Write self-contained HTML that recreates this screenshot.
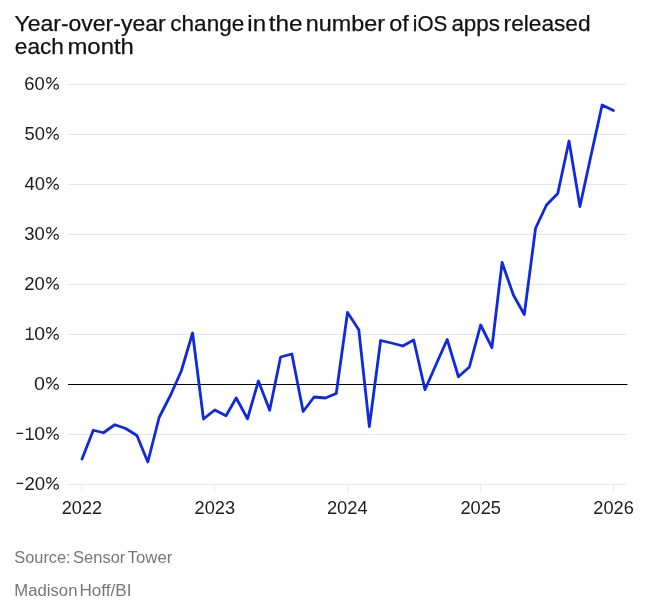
<!DOCTYPE html>
<html><head><meta charset="utf-8"><style>
html,body{margin:0;padding:0;background:#fff;}
body{width:651px;height:605px;overflow:hidden;}
svg{display:block;will-change:transform;font-family:"Liberation Sans",sans-serif;}
</style></head><body>
<svg width="651" height="605" viewBox="0 0 651 605">
<rect width="651" height="605" fill="#fff"/>
<g font-size="22.6" fill="#111" stroke="#111" stroke-width="0.25">
<text x="14.46" y="31" textLength="151.2" lengthAdjust="spacingAndGlyphs">Year-over-year</text><text x="170.3" y="31" textLength="74.0" lengthAdjust="spacingAndGlyphs">change</text><text x="247.3" y="31" textLength="18.77" lengthAdjust="spacingAndGlyphs">in</text><text x="268.7" y="31" textLength="33.83" lengthAdjust="spacingAndGlyphs">the</text><text x="305.65" y="31" textLength="79.33" lengthAdjust="spacingAndGlyphs">number</text><text x="389.27" y="31" textLength="19.5" lengthAdjust="spacingAndGlyphs">of</text><text x="412.83" y="31" textLength="34.43" lengthAdjust="spacingAndGlyphs">iOS</text><text x="451.41" y="31" textLength="48.56" lengthAdjust="spacingAndGlyphs">apps</text><text x="503.6" y="31" textLength="86.93" lengthAdjust="spacingAndGlyphs">released</text>
<text x="14.8" y="54.3" textLength="49.11" lengthAdjust="spacingAndGlyphs">each</text><text x="67.41" y="54.3" textLength="66.49" lengthAdjust="spacingAndGlyphs">month</text>
</g>
<g stroke="#e6e6e6" stroke-width="1">
<line x1="68" x2="627" y1="84.5" y2="84.5"/><line x1="68" x2="627" y1="134.5" y2="134.5"/><line x1="68" x2="627" y1="184.5" y2="184.5"/><line x1="68" x2="627" y1="234.5" y2="234.5"/><line x1="68" x2="627" y1="284.5" y2="284.5"/><line x1="68" x2="627" y1="334.5" y2="334.5"/><line x1="68" x2="627" y1="434.5" y2="434.5"/><line x1="68" x2="627" y1="484.5" y2="484.5"/>
<line x1="82.00" x2="82.00" y1="485" y2="491.8" stroke="#e9e9e9"/><line x1="214.76" x2="214.76" y1="485" y2="491.8" stroke="#e9e9e9"/><line x1="347.52" x2="347.52" y1="485" y2="491.8" stroke="#e9e9e9"/><line x1="480.64" x2="480.64" y1="485" y2="491.8" stroke="#e9e9e9"/><line x1="613.40" x2="613.40" y1="485" y2="491.8" stroke="#e9e9e9"/>
</g>
<g font-size="17.8" fill="#1c1c1c">
<text x="24.39" y="89.6" textLength="20.48" lengthAdjust="spacingAndGlyphs">60</text><text x="24.42" y="139.6" textLength="20.45" lengthAdjust="spacingAndGlyphs">50</text><text x="24.41" y="189.6" textLength="20.47" lengthAdjust="spacingAndGlyphs">40</text><text x="24.32" y="239.6" textLength="20.56" lengthAdjust="spacingAndGlyphs">30</text><text x="24.29" y="289.6" textLength="20.59" lengthAdjust="spacingAndGlyphs">20</text><text x="34.28" y="339.6" textLength="10.82" lengthAdjust="spacingAndGlyphs">0</text><text x="34.07" y="389.6" textLength="10.94" lengthAdjust="spacingAndGlyphs">0</text><text x="34.28" y="439.6" textLength="10.82" lengthAdjust="spacingAndGlyphs">0</text><text x="24.48" y="489.6" textLength="20.81" lengthAdjust="spacingAndGlyphs">20</text>
<rect x="16.5" y="432.75" width="6.7" height="1.25"/><rect x="16.5" y="482.75" width="6.7" height="1.25"/>
</g>
<g fill="none" stroke="#222" stroke-width="1.1"><ellipse cx="48.78" cy="80.30" rx="2.16" ry="2.66"/><ellipse cx="56.2" cy="86.80" rx="2.16" ry="2.45"/><line x1="47.75" y1="89.15" x2="56.8" y2="77.45"/><ellipse cx="48.78" cy="130.30" rx="2.16" ry="2.66"/><ellipse cx="56.2" cy="136.80" rx="2.16" ry="2.45"/><line x1="47.75" y1="139.15" x2="56.8" y2="127.45"/><ellipse cx="48.78" cy="180.30" rx="2.16" ry="2.66"/><ellipse cx="56.2" cy="186.80" rx="2.16" ry="2.45"/><line x1="47.75" y1="189.15" x2="56.8" y2="177.45"/><ellipse cx="48.78" cy="230.30" rx="2.16" ry="2.66"/><ellipse cx="56.2" cy="236.80" rx="2.16" ry="2.45"/><line x1="47.75" y1="239.15" x2="56.8" y2="227.45"/><ellipse cx="48.78" cy="280.30" rx="2.16" ry="2.66"/><ellipse cx="56.2" cy="286.80" rx="2.16" ry="2.45"/><line x1="47.75" y1="289.15" x2="56.8" y2="277.45"/><ellipse cx="48.78" cy="330.30" rx="2.16" ry="2.66"/><ellipse cx="56.2" cy="336.80" rx="2.16" ry="2.45"/><line x1="47.75" y1="339.15" x2="56.8" y2="327.45"/><ellipse cx="48.78" cy="380.30" rx="2.16" ry="2.66"/><ellipse cx="56.2" cy="386.80" rx="2.16" ry="2.45"/><line x1="47.75" y1="389.15" x2="56.8" y2="377.45"/><ellipse cx="48.78" cy="430.30" rx="2.16" ry="2.66"/><ellipse cx="56.2" cy="436.80" rx="2.16" ry="2.45"/><line x1="47.75" y1="439.15" x2="56.8" y2="427.45"/><ellipse cx="48.78" cy="480.30" rx="2.16" ry="2.66"/><ellipse cx="56.2" cy="486.80" rx="2.16" ry="2.45"/><line x1="47.75" y1="489.15" x2="56.8" y2="477.45"/></g>
<g fill="none" stroke="#222" stroke-width="1.4"><path d="M29.8,327.30V339.80M25.95,329.40H29.8M25.75,339.30H33.85"/><path d="M29.8,427.30V439.80M25.95,429.40H29.8M25.75,439.30H33.85"/></g>
<g font-size="17.8" fill="#1c1c1c">
<text x="61.81" y="513.6" textLength="40.24" lengthAdjust="spacingAndGlyphs">2022</text><text x="194.5" y="513.6" textLength="40.53" lengthAdjust="spacingAndGlyphs">2023</text><text x="326.9" y="513.6" textLength="40.68" lengthAdjust="spacingAndGlyphs">2024</text><text x="460.4" y="513.6" textLength="40.63" lengthAdjust="spacingAndGlyphs">2025</text><text x="593.3" y="513.6" textLength="40.53" lengthAdjust="spacingAndGlyphs">2026</text>
</g>
<line x1="68" x2="627.5" y1="384.5" y2="384.5" stroke="#000" stroke-width="1.2"/>
<polyline fill="none" stroke="#0f2ade" stroke-width="2.8" stroke-linejoin="round" stroke-linecap="round" points="82.00,459.00 93.28,430.25 103.46,432.75 114.74,424.75 125.65,428.50 136.92,435.50 147.83,462.00 159.11,417.50 170.38,395.50 181.30,371.00 192.57,333.00 203.48,419.00 214.76,410.00 226.03,415.75 236.22,398.00 247.49,418.75 258.41,381.00 269.68,410.25 280.59,357.00 291.87,354.00 303.14,411.50 314.06,397.00 325.33,398.00 336.24,393.50 347.52,312.50 358.79,329.75 369.34,426.50 380.62,340.50 391.53,343.00 402.80,346.00 413.72,340.00 424.99,389.75 436.27,364.00 447.18,339.50 458.45,376.75 469.37,367.00 480.64,325.00 491.92,347.50 502.10,262.50 513.38,295.00 524.29,314.50 535.56,228.25 546.47,205.00 557.75,193.50 569.03,141.00 579.94,206.50 591.21,154.50 602.12,105.00 613.40,110.50"/>
<g font-size="16" fill="#777">
<text x="14.33" y="562.5" textLength="56.31" lengthAdjust="spacingAndGlyphs">Source:</text><text x="73.03" y="562.5" textLength="52.31" lengthAdjust="spacingAndGlyphs">Sensor</text><text x="127.61" y="562.5" textLength="44.82" lengthAdjust="spacingAndGlyphs">Tower</text>
<text x="14.37" y="595.5" textLength="63.06" lengthAdjust="spacingAndGlyphs">Madison</text><text x="79.53" y="595.5" textLength="51.97" lengthAdjust="spacingAndGlyphs">Hoff/BI</text>
</g>
</svg>
</body></html>
